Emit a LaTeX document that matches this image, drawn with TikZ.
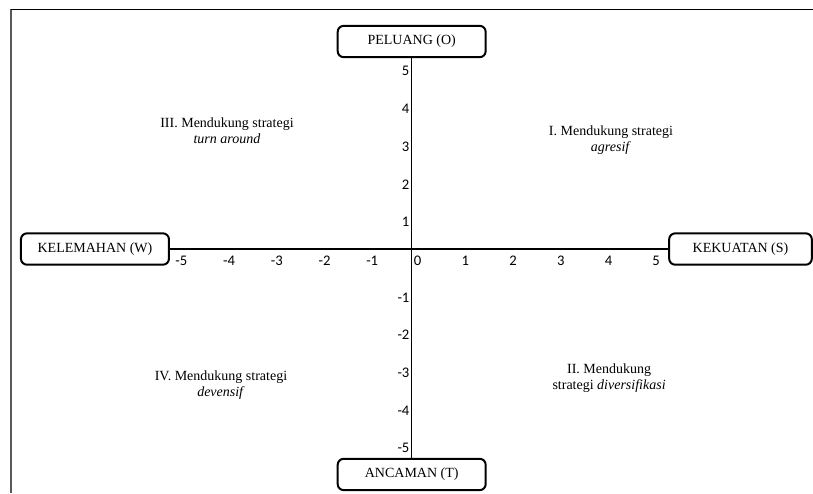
\documentclass[tikz,border=0pt]{standalone}
\usepackage{fontspec}
\setmainfont{Liberation Serif}
\newfontfamily\ticksfont{Carlito}

\tikzset{
  kotak/.style={draw, line width=1.5pt, rounded corners=4.5pt,
    minimum width=111pt, minimum height=23.5pt, inner sep=2pt,
    font=\fontsize{10.5}{12.5}\selectfont},
  kuadran/.style={align=center, font=\fontsize{10.5}{12}\selectfont},
  angka/.style={inner sep=1.5pt, font=\ticksfont\fontsize{11}{13}\selectfont},
  sumbu/.style={line width=0.8pt}
}

\begin{document}
\begin{tikzpicture}
    \pgfsetxvec{\pgfpoint{35.78pt}{0}}
    \pgfsetyvec{\pgfpoint{0}{28.28pt}}
    \useasboundingbox (-8.631,-6.472) rectangle (8.413,6.605);

    % frame
    \draw[gray!70!black, line width=1.4pt] (-8.40,-6.472) -- (-8.40,6.358);
    \draw[line width=1.1pt] (-8.40,6.358) -- (8.413,6.358);

    \node[kotak] (O) at (0,5.504) {PELUANG (O)};
    \node[kotak] (T) at (0,-5.98) {ANCAMAN (T)};
    \node[kotak] (W) at (-6.64,0) {KELEMAHAN (W)};
    \node[kotak, minimum width=107pt] (S) at (6.893,0) {KEKUATAN (S)};
    \draw[sumbu] (W) -- (S);
    \draw[sumbu] (O) -- (T);

    \foreach \x [count=\i] in {-5,...,5} {
      \node[angka, anchor=west, yshift=-9pt] (xa\i) at (\x,0) {\x};
    }
    \foreach \y [count=\i] in {-5,-4,-3,-2,-1,1,2,3,4,5} {
      \node[angka, anchor=east, yshift=-8pt] (ya\i) at (0,\y) {\y};
    }

    \node[kuadran] (q1) at (4.178,2.891) {I. Mendukung strategi\\\textit{agresif}};
    \node[kuadran] (q2) at (4.138,-3.422) {II. Mendukung\\strategi \textit{diversifikasi}};
    \node[kuadran] (q3) at (-3.872,3.130) {III. Mendukung strategi\\\textit{turn around}};
    \node[kuadran] (q4) at (-3.998,-3.607) {IV. Mendukung strategi\\\textit{devensif}};
  \end{tikzpicture}
\end{document}
